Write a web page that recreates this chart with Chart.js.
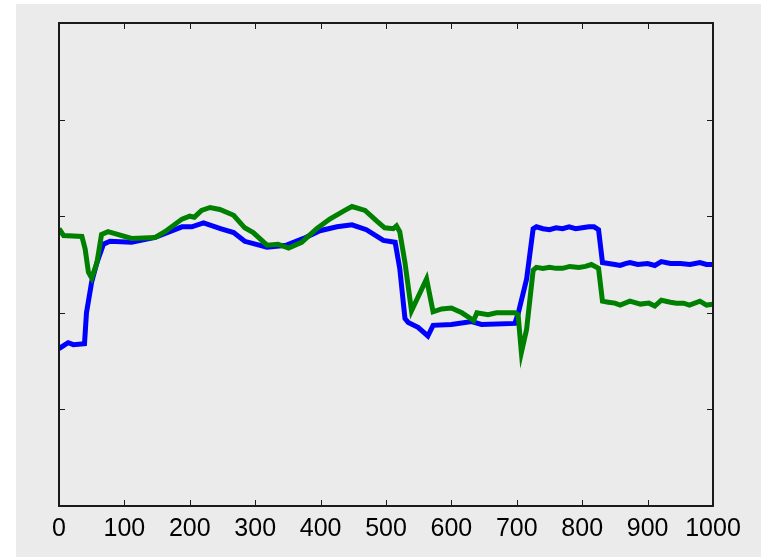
<!DOCTYPE html>
<html lang="en">
<head>
    <meta charset="UTF-8">
    <title>Two series chart</title>
    <script src="https://cdn.jsdelivr.net/npm/chart.js@4.4.0/dist/chart.umd.min.js"></script>
    <style>
        html, body { margin: 0; padding: 0; background: #ffffff; }
        #wrap { width: 761px; height: 557px; }
    </style>
</head>
<body>
<div id="wrap">
    <canvas id="myChart" width="761" height="557"></canvas>
</div>
<script>
// data (y in tick units, 0..5)
var blueX = [0, 14, 22, 39, 42, 50, 58, 68, 78, 111, 147, 188, 203, 221, 248, 267, 284, 318, 348, 374, 399, 425, 448, 470, 496, 514, 521, 529, 534, 549, 564, 572, 600, 631, 646, 697, 702, 715, 725, 730, 740, 750, 760, 770, 780, 790, 800, 810, 818, 825, 831, 840, 850, 858, 866, 873, 885, 900, 911, 921, 935, 950, 965, 980, 990, 1000];
var blueY = [1.63, 1.69, 1.67, 1.68, 2.0, 2.32, 2.52, 2.71, 2.74, 2.73, 2.78, 2.89, 2.89, 2.93, 2.87, 2.83, 2.74, 2.68, 2.70, 2.77, 2.85, 2.89, 2.91, 2.86, 2.75, 2.73, 2.46, 1.94, 1.90, 1.85, 1.76, 1.87, 1.88, 1.91, 1.88, 1.89, 1.99, 2.35, 2.87, 2.89, 2.87, 2.86, 2.88, 2.87, 2.89, 2.87, 2.88, 2.89, 2.89, 2.86, 2.52, 2.51, 2.50, 2.49, 2.51, 2.52, 2.50, 2.51, 2.49, 2.53, 2.51, 2.51, 2.50, 2.52, 2.50, 2.50];

var greenX = [0, 7, 35, 40, 45, 50, 58, 65, 75, 111, 147, 162, 188, 200, 207, 218, 231, 246, 267, 284, 297, 318, 335, 351, 371, 394, 414, 437, 448, 468, 486, 498, 511, 516, 521, 529, 539, 562, 572, 585, 600, 616, 634, 639, 656, 669, 697, 702, 707, 715, 725, 730, 740, 750, 760, 770, 781, 795, 805, 814, 825, 831, 840, 850, 858, 873, 889, 902, 911, 921, 935, 944, 955, 964, 980, 990, 1000];
var greenY = [2.87, 2.80, 2.79, 2.66, 2.42, 2.36, 2.52, 2.81, 2.84, 2.77, 2.78, 2.84, 2.97, 3.00, 2.99, 3.06, 3.09, 3.07, 3.01, 2.88, 2.83, 2.70, 2.71, 2.67, 2.73, 2.87, 2.97, 3.06, 3.10, 3.06, 2.95, 2.88, 2.87, 2.90, 2.84, 2.52, 2.02, 2.35, 2.01, 2.04, 2.05, 2.00, 1.92, 2.00, 1.98, 2.00, 2.00, 1.98, 1.59, 1.83, 2.44, 2.47, 2.46, 2.47, 2.46, 2.46, 2.48, 2.47, 2.48, 2.50, 2.46, 2.12, 2.11, 2.10, 2.08, 2.12, 2.09, 2.10, 2.07, 2.13, 2.11, 2.10, 2.10, 2.08, 2.12, 2.08, 2.09];

var xTicks = [0, 100, 200, 300, 400, 500, 600, 700, 800, 900, 1000];
var yTicks = [0, 1, 2, 3, 4, 5];

function toPoints(xs, ys) {
    return xs.map(function (x, i) { return { x: x, y: ys[i] }; });
}

// grey panel behind the figure, frame and inward tick marks
var figurePlugin = {
    id: 'figure',
    beforeDraw: function (chart) {
        var ctx = chart.ctx;
        ctx.save();
        ctx.fillStyle = '#ebebeb';
        ctx.fillRect(16, 4, chart.width - 16, chart.height - 4);
        ctx.restore();
    },
    afterDraw: function (chart) {
        var ctx = chart.ctx;
        var a = chart.chartArea;
        var xs = chart.scales.x, ys = chart.scales.y;
        ctx.save();
        ctx.strokeStyle = '#1a1a1a';
        ctx.lineWidth = 1;
        ctx.beginPath();
        xTicks.forEach(function (t) {
            var px = Math.round(xs.getPixelForValue(t)) + 0.5;
            ctx.moveTo(px, a.bottom); ctx.lineTo(px, a.bottom - 6);
            ctx.moveTo(px, a.top); ctx.lineTo(px, a.top + 6);
        });
        yTicks.forEach(function (t) {
            var py = Math.round(ys.getPixelForValue(t)) + 0.5;
            ctx.moveTo(a.left, py); ctx.lineTo(a.left + 6, py);
            ctx.moveTo(a.right, py); ctx.lineTo(a.right - 6, py);
        });
        ctx.stroke();
        ctx.lineWidth = 2;
        ctx.strokeRect(a.left, a.top, a.right - a.left, a.bottom - a.top);
        ctx.restore();
    }
};

var ctx = document.getElementById('myChart').getContext('2d');
var myChart = new Chart(ctx, {
    type: 'line',
    data: {
        datasets: [{
            label: 'green',
            data: toPoints(greenX, greenY),
            borderColor: '#008000',
            borderWidth: 5,
            pointRadius: 0,
            tension: 0,
            order: 0
        }, {
            label: 'blue',
            data: toPoints(blueX, blueY),
            borderColor: '#0000ff',
            borderWidth: 5,
            pointRadius: 0,
            tension: 0,
            order: 1
        }]
    },
    options: {
        responsive: false,
        animation: false,
        layout: { padding: { left: 59, top: 23, right: 48, bottom: 5 } },
        plugins: {
            legend: { display: false },
            tooltip: { enabled: false }
        },
        scales: {
            x: {
                type: 'linear',
                min: 0,
                max: 1000,
                afterBuildTicks: function (scale) {
                    scale.ticks = xTicks.map(function (v) { return { value: v }; });
                },
                ticks: {
                    color: '#000000',
                    padding: 8,
                    maxRotation: 0,
                    font: { family: 'Liberation Sans', size: 25 },
                    callback: function (v) { return String(v); }
                },
                grid: { display: false, drawTicks: false },
                border: { display: false }
            },
            y: {
                display: false,
                min: 0,
                max: 5
            }
        }
    },
    plugins: [figurePlugin]
});
</script>
</body>
</html>
